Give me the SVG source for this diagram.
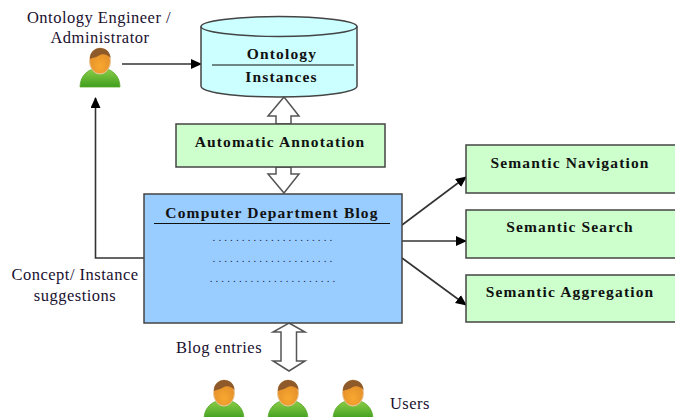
<svg xmlns="http://www.w3.org/2000/svg" width="675" height="417" viewBox="0 0 675 417">
<style>
text{font-family:"Liberation Serif","Times New Roman",serif;fill:#111;text-anchor:middle}
.r{font-size:16.500px;letter-spacing:.5px;fill:#1a1030}
.b{font-size:15.500px;font-weight:bold;letter-spacing:1.150px}
.d{font-size:11px;fill:#224;letter-spacing:3.100px}
.box{fill:#ccffcc;stroke:#444;stroke-width:1.5}
.l{fill:none;stroke:#333;stroke-width:1.6}
.dbl{fill:#fff;stroke:#555;stroke-width:1.5}
</style>
<defs>
<marker id="a" markerWidth="11" markerHeight="11" refX="10" refY="5" orient="auto" markerUnits="userSpaceOnUse"><path d="M0,0L11,5L0,10Z" fill="#000"/></marker>
<linearGradient id="body" x1="0" y1="0" x2="0" y2="1"><stop offset="0" stop-color="#8fd04a"/><stop offset="1" stop-color="#3f9e1e"/></linearGradient>
<radialGradient id="face" cx=".5" cy=".7" r=".7"><stop offset="0" stop-color="#f8a830"/><stop offset="1" stop-color="#e08a28"/></radialGradient>
<g id="person">
<path d="M0,39C0,27 9,20 20,20C31,20 40,27 40,39Z" fill="url(#body)" stroke="#5aa92c" stroke-width=".8"/>
<ellipse cx="20" cy="13" rx="10.500" ry="13" fill="url(#face)" stroke="#e8c8a0" stroke-width="1"/>
<path d="M10,11C9.500,4 15,0 20,0C26,0 30.500,4 30.500,10C27,5.500 22,5.500 19,7.500C16,9.500 13,9.500 10,11Z" fill="#8f5a2a"/>
</g>
</defs>
<g id="connectors">
<path class="l" d="M122,64H201" marker-end="url(#a)"/>
<path class="l" d="M144,258H95.500V98" marker-end="url(#a)"/>
<path class="l" d="M402,225L466,177" marker-end="url(#a)"/>
<path class="l" d="M402,241H466" stroke-width="2" marker-end="url(#a)"/>
<path class="l" d="M402,258L466,305" marker-end="url(#a)"/>
<path class="dbl" d="M284,97L299,116H291V124H276V116H268Z"/>
<path class="dbl" d="M284,193L299,174H291V167H276V174H268Z"/>
<path class="dbl" d="M289,323L305,332H296.500V361H305L289,371L273,361H281V332H273Z"/>
</g>
<g id="ontology">
<path d="M201,27V86C201,92 232,97 278,97C324,97 357,92 357,86V27Z" fill="#ccffff" stroke="#444" stroke-width="1.500"/>
<ellipse cx="279" cy="26.500" rx="78" ry="10" fill="#ccffff" stroke="#444" stroke-width="1.500"/>
<text class="b" x="282" y="59">Ontology</text>
<path d="M212,65H354" stroke="#111" stroke-width="1.200"/>
<text class="b" x="281.500" y="82">Instances</text>
</g>
<g id="admin">
<text class="r" x="99" y="23">Ontology Engineer /</text>
<text class="r" x="100" y="43">Administrator</text>
<use href="#person" x="80" y="48"/>
</g>
<g id="annotation">
<rect class="box" x="176" y="124" width="209" height="43"/>
<text class="b" x="280" y="147">Automatic Annotation</text>
</g>
<g id="blog">
<rect x="144" y="194" width="258" height="129" fill="#99ccff" stroke="#444" stroke-width="1.500"/>
<text class="b" x="272" y="218">Computer Department Blog</text>
<path d="M154,223.500H390" stroke="#111" stroke-width="1.200"/>
<text class="d" x="274" y="241">.....................</text>
<text class="d" x="274" y="262">.....................</text>
<text class="d" x="274" y="282">......................</text>
</g>
<g id="nav">
<rect class="box" x="466" y="145" width="212" height="48"/>
<text class="b" x="570" y="168">Semantic Navigation</text>
</g>
<g id="search">
<rect class="box" x="466" y="210" width="212" height="48"/>
<text class="b" x="570" y="232">Semantic Search</text>
</g>
<g id="aggregation">
<rect class="box" x="466" y="275" width="212" height="47"/>
<text class="b" x="570" y="297">Semantic Aggregation</text>
</g>
<g id="labels">
<text class="r" x="75" y="280">Concept/ Instance</text>
<text class="r" x="75" y="301">suggestions</text>
<text class="r" x="219" y="353">Blog entries</text>
<text class="r" x="410" y="409">Users</text>
</g>
<g id="users">
<use href="#person" x="204" y="380"/>
<use href="#person" x="268" y="380"/>
<use href="#person" x="333" y="380"/>
</g>
</svg>
